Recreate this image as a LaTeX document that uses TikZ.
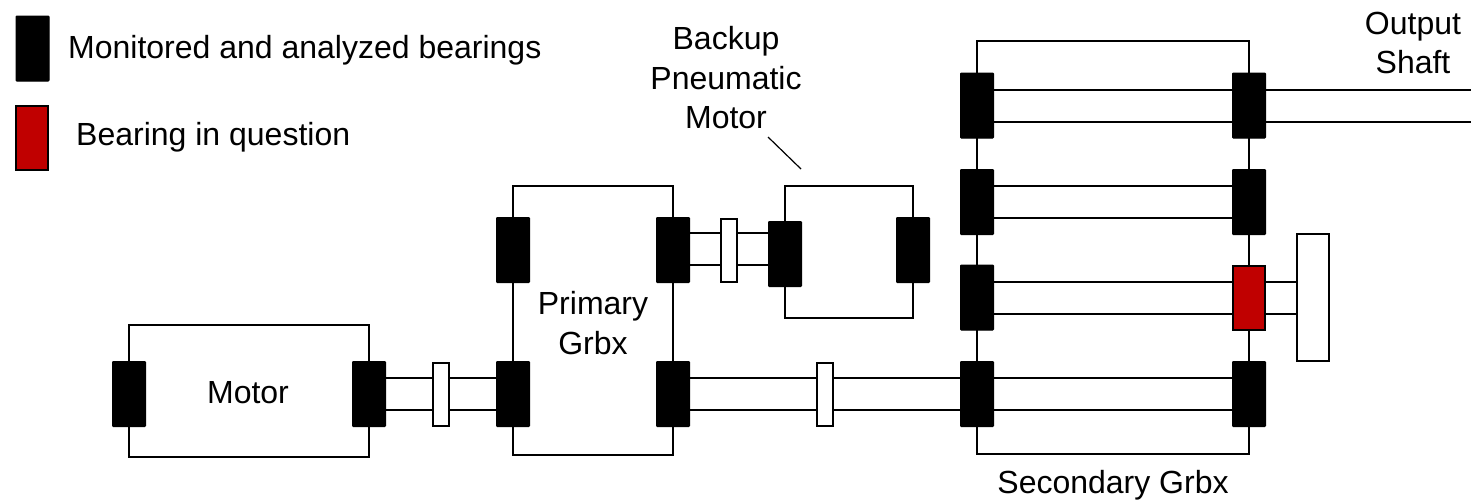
\documentclass[tikz,border=0pt]{standalone}
\usepackage{fontspec}
\setmainfont{Liberation Sans}
\tikzset{
  bearing/.style={draw=black,fill=black,line width=1pt,minimum width=33pt,minimum height=65pt,inner sep=0pt,outer sep=0pt,rounded corners=0.8pt},
  badbearing/.style={draw=black,fill=bred,line width=2pt,minimum width=32pt,minimum height=64pt,inner sep=0pt,outer sep=0pt},
  coupler/.style={draw=black,fill=white,line width=2pt,minimum width=16pt,minimum height=63pt,inner sep=0pt,outer sep=0pt},
  wheel/.style={draw=black,fill=white,line width=2pt,minimum width=32pt,minimum height=127pt,inner sep=0pt,outer sep=0pt},
  line/.style={draw=black,line width=2pt,line cap=butt,line join=miter},
  lbl/.style={font=\fontsize{32pt}{39.5pt}\selectfont,align=center,inner sep=0pt,text=black}
}
\definecolor{bred}{HTML}{C00000}
\begin{document}
\begin{tikzpicture}[x=1pt,y=-1pt]
\useasboundingbox (0,0) rectangle (1471,501);
% legend
\node[bearing] (lega) at (32.5,48.5) {};
\node[badbearing] (legb) at (32,137.5) {};
\node[lbl,anchor=base west] (legta) at (68,58) {Monitored and analyzed bearings};
\node[lbl,anchor=base west] (legtb) at (76,145.5) {Bearing in question};
% motor
\node[bearing] (ml) at (129,394) {};
\node[bearing] (mr) at (369,394) {};
\node[lbl,anchor=base] (mt) at (248,403.5) {Motor};
% primary
\node[bearing] (ptl) at (513,250) {};
\node[bearing] (ptr) at (673,250) {};
\node[bearing] (pbl) at (513,394) {};
\node[bearing] (pbr) at (673,394) {};
\node[lbl] (pt) at (593,323) {Primary\\Grbx};
% backup
\node[bearing] (bl) at (785,254) {};
\node[bearing] (br) at (913,250) {};
\node[lbl] (bt) at (726,78) {Backup\\Pneumatic\\Motor};
% secondary
\node[bearing] (s1l) at (977,105.5) {};
\node[bearing] (s1r) at (1249,105.5) {};
\node[bearing] (s2l) at (977,202) {};
\node[bearing] (s2r) at (1249,202) {};
\node[bearing] (s3l) at (977,297.5) {};
\node[badbearing] (s3r) at (1249,297.5) {};
\node[bearing] (s4l) at (977,394) {};
\node[bearing] (s4r) at (1249,394) {};
\node[lbl,anchor=base] (st) at (1113,493.5) {Secondary Grbx};
\node[lbl] (ot) at (1413,43) {Output\\Shaft};
% couplers, wheel
\node[coupler] (c1) at (440.5,394) {};
\node[coupler] (c2) at (729,250) {};
\node[coupler] (c3) at (825,394) {};
\node[wheel] (wh) at (1313,297) {};
\coordinate (oa) at (1471,89.5);
\coordinate (ob) at (1471,121.5);
\coordinate (lead1) at (768,137);
\coordinate (lead2) at (801,169);
% housings
\draw[line] (ml.north) -- ++(0,-37) -| (mr.north);
\draw[line] (ml.south) -- ++(0,30) -| (mr.south);
\draw[line] (ptl.north) -- ++(0,-32) -| (ptr.north);
\draw[line] (pbl.south) -- ++(0,28) -| (pbr.south);
\draw[line] (ptl.south) -- (pbl.north);
\draw[line] (ptr.south) -- (pbr.north);
\draw[line] (bl.north) -- ++(0,-36) -| (br.north);
\draw[line] (bl.south) -- ++(0,31) -| (br.south);
\draw[line] (s1l.north) -- ++(0,-32) -| (s1r.north);
\draw[line] (s4l.south) -- ++(0,27) -| (s4r.south);
\draw[line] (s1l.south) -- (s2l.north);
\draw[line] (s2l.south) -- (s3l.north);
\draw[line] (s3l.south) -- (s4l.north);
\draw[line] (s1r.south) -- (s2r.north);
\draw[line] (s2r.south) -- (s3r.north);
\draw[line] (s3r.south) -- (s4r.north);
% shafts
\foreach \o in {16,-16}{
  \draw[line] ([yshift=\o pt]mr.east) -- ([yshift=\o pt]c1.west);
  \draw[line] ([yshift=\o pt]c1.east) -- ([yshift=\o pt]pbl.west);
  \draw[line] ([yshift=\o pt]pbr.east) -- ([yshift=\o pt]c3.west);
  \draw[line] ([yshift=\o pt]c3.east) -- ([yshift=\o pt]s4l.west);
  \draw[line] ([yshift=\o pt]s1l.east) -- ([yshift=\o pt]s1r.west);
  \draw[line] ([yshift=\o pt]s2l.east) -- ([yshift=\o pt]s2r.west);
  \draw[line] ([yshift=\o pt]s3l.east) -- ([yshift=\o pt]s3r.west);
  \draw[line] ([yshift=\o pt]s4l.east) -- ([yshift=\o pt]s4r.west);
  \draw[line] ([yshift=\o pt]s3r.east) -- ([yshift=\o pt]s3r.east -| wh.west);
}
\draw[line] ([yshift=17pt]ptr.east) -- ([yshift=17pt]c2.west);
\draw[line] ([yshift=-15pt]ptr.east) -- ([yshift=-15pt]c2.west);
\draw[line] ([yshift=17pt]c2.east) -- ([yshift=21pt]bl.west);
\draw[line] ([yshift=-15pt]c2.east) -- ([yshift=-11pt]bl.west);
\draw[line] (s1r.east |- oa) -- (oa);
\draw[line] (s1r.east |- ob) -- (ob);
\draw[line,line width=1.2pt] (lead1) -- (lead2);
\end{tikzpicture}
\end{document}
